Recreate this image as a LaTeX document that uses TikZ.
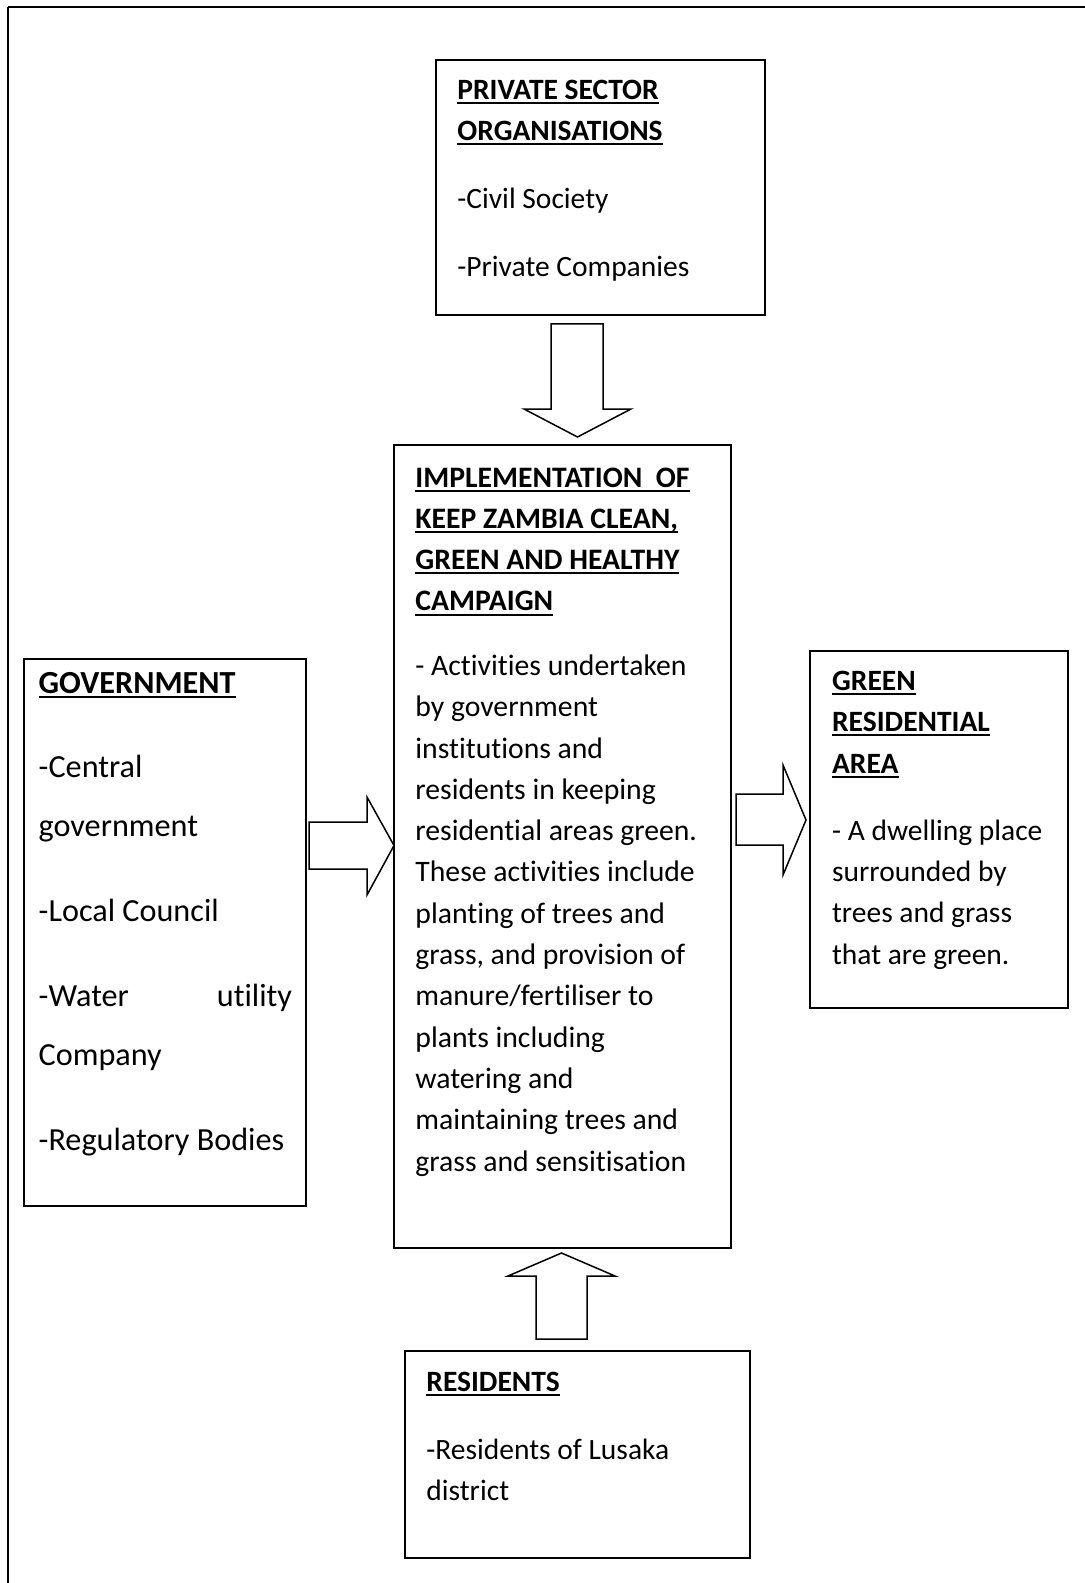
\documentclass[tikz,border=0pt]{standalone}
\usepackage{fontspec}
\setmainfont{Carlito}[Ligatures=NoCommon]
\usetikzlibrary{fit}
\newcommand\myul[1]{\leavevmode{\setbox0=\hbox{#1}\rlap{\rule[-2.3pt]{\wd0}{1pt}}\box0}}
\begin{document}
\begin{tikzpicture}[x=0.5pt,y=-0.5pt,
  box/.style={draw, line width=0.75pt, inner sep=0pt},
  gbox/.style={box, line width=1.3pt},
  txt/.style={anchor=base west, inner sep=0pt},
  blockarrow/.style={draw, line width=0.75pt, line join=miter, fill=white}]
\useasboundingbox (0,0) rectangle (1085,1583);
% outer frame (open at right and bottom)
\draw[line width=0.75pt] (8,1583) -- (8,7.5);
\draw[line width=1pt] (7.6,7.5) -- (1085,7.5);
% boxes
\node[box, fit={(436,60)(765,315)}] (priv) {};
\node[box, fit={(394,445)(731,1248)}] (main) {};
\node[gbox, fit={(24,659)(306,1206)}] (gov) {};
\node[box, fit={(810,651)(1068,1008)}] (green) {};
\node[box, fit={(405,1351)(750,1558)}] (res) {};
% texts
\node[txt] (privtxt) at (457,99.5) {\parbox[t]{170pt}{\fontsize{14.75}{20.7}\selectfont\bfseries
  \myul{PRIVATE SECTOR}\\
  \myul{ORGANISATIONS}\\[13pt]
  \mdseries -Civil Society\\[13.2pt]
  -Private Companies}};
\node[txt] (maintxt) at (415,487) {\parbox[t]{170pt}{\fontsize{14.85}{20.65}\selectfont\bfseries
  \myul{IMPLEMENTATION\ \ OF}\\
  \myul{KEEP ZAMBIA CLEAN,}\\
  \myul{GREEN AND HEALTHY}\\
  \myul{CAMPAIGN}\\[11.6pt]
  \mdseries - Activities undertaken\\
  by government\\
  institutions and\\
  residents in keeping\\
  residential areas green.\\
  These activities include\\
  planting of trees and\\
  grass, and provision of\\
  manure/fertiliser to\\
  plants including\\
  watering and\\
  maintaining trees and\\
  grass and sensitisation}};
\node[txt] (govtxt) at (38.3,693) {\parbox[t]{140pt}{\fontsize{16.1}{29.5}\selectfont
  \textbf{\myul{GOVERNMENT}}\\[12.9pt]
  -Central\\
  government\\[12.9pt]
  -Local Council\\[12.9pt]
  \hbox to 126.7pt{-Water\hfill utility}\\
  Company\\[12.9pt]
  -Regulatory Bodies}};
\node[txt] (greentxt) at (831.7,690.4) {\parbox[t]{130pt}{\fontsize{14.75}{20.65}\selectfont\bfseries
  \myul{GREEN}\\
  \myul{RESIDENTIAL}\\
  \myul{AREA}\\[12.9pt]
  \mdseries - A dwelling place\\
  surrounded by\\
  trees and grass\\
  that are green.}};
\node[txt] (restxt) at (426,1391.7) {\parbox[t]{160pt}{\fontsize{14.75}{20.65}\selectfont\bfseries
  \myul{RESIDENTS}\\[13.3pt]
  \mdseries -Residents of Lusaka\\
  district}};
% block arrows
\draw[blockarrow] (551,324) -- (603,324) -- (603,409) -- (631,409) -- (577.5,437) -- (524,409) -- (551,409) -- cycle;
\draw[blockarrow] (309,822) -- (367,822) -- (367,797) -- (394,845.5) -- (367,895) -- (367,869) -- (309,869) -- cycle;
\draw[blockarrow] (736,794) -- (783,794) -- (783,765) -- (806,820) -- (783,875) -- (783,845) -- (736,845) -- cycle;
\draw[blockarrow] (536,1339) -- (536,1276) -- (508,1276) -- (561.5,1253) -- (615,1276) -- (587,1276) -- (587,1339) -- cycle;
\end{tikzpicture}
\end{document}
